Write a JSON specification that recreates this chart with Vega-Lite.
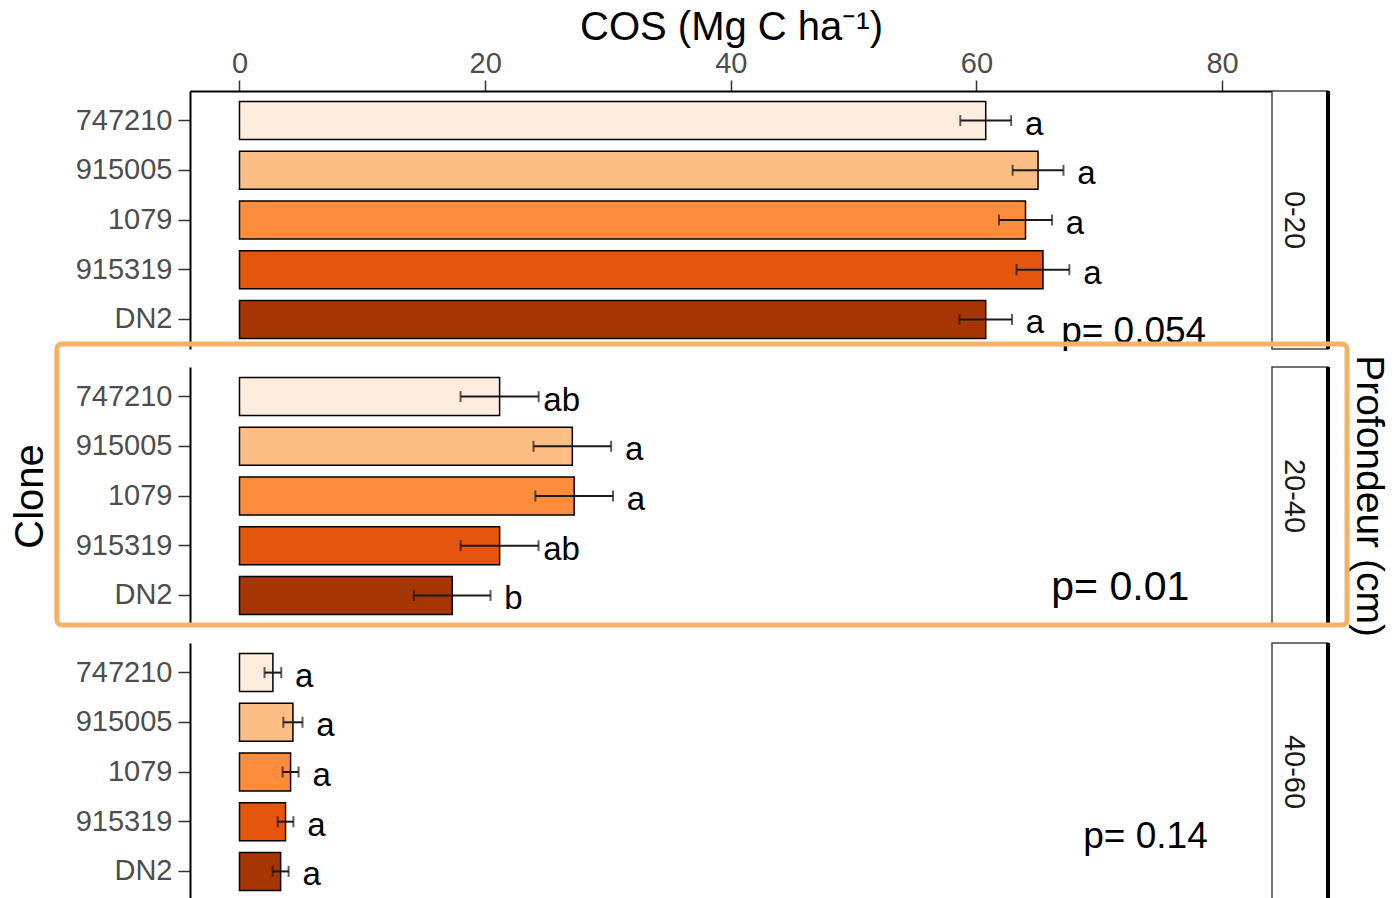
{
  "$schema": "https://vega.github.io/schema/vega-lite/v6.json",
  "padding": {"left": 10, "top": 7, "right": 0, "bottom": 0},
  "background": "white",
  "config": {
    "font": "Liberation Sans",
    "view": {"stroke": null},
    "axis": {"grid": false}
  },
  "datasets": {
    "cos": [
      {"depth": "0-20", "clone": "747210", "cos": 60.76, "se": 2.07, "letter": "a"},
      {"depth": "0-20", "clone": "915005", "cos": 65.02, "se": 2.07, "letter": "a"},
      {"depth": "0-20", "clone": "1079", "cos": 64.0, "se": 2.16, "letter": "a"},
      {"depth": "0-20", "clone": "915319", "cos": 65.42, "se": 2.15, "letter": "a"},
      {"depth": "0-20", "clone": "DN2", "cos": 60.76, "se": 2.14, "letter": "a"},
      {"depth": "20-40", "clone": "747210", "cos": 21.18, "se": 3.18, "letter": "ab"},
      {"depth": "20-40", "clone": "915005", "cos": 27.1, "se": 3.16, "letter": "a"},
      {"depth": "20-40", "clone": "1079", "cos": 27.25, "se": 3.16, "letter": "a"},
      {"depth": "20-40", "clone": "915319", "cos": 21.18, "se": 3.17, "letter": "ab"},
      {"depth": "20-40", "clone": "DN2", "cos": 17.32, "se": 3.12, "letter": "b"},
      {"depth": "40-60", "clone": "747210", "cos": 2.72, "se": 0.68, "letter": "a"},
      {"depth": "40-60", "clone": "915005", "cos": 4.35, "se": 0.78, "letter": "a"},
      {"depth": "40-60", "clone": "1079", "cos": 4.16, "se": 0.65, "letter": "a"},
      {"depth": "40-60", "clone": "915319", "cos": 3.75, "se": 0.64, "letter": "a"},
      {"depth": "40-60", "clone": "DN2", "cos": 3.35, "se": 0.65, "letter": "a"}
    ]
  },
  "bounds": "flush",
  "spacing": 18,
  "vconcat": [
    {
      "width": 1082,
      "height": 258,
      "data": {"name": "cos"},
      "transform": [
        {"filter": "datum.depth === '0-20'"},
        {"calculate": "datum.cos - datum.se", "as": "lo"},
        {"calculate": "datum.cos + datum.se", "as": "hi"}
      ],
      "layer": [
        {
          "mark": {"type": "bar", "stroke": "black", "strokeWidth": 1.5},
          "encoding": {
            "y": {"field": "clone", "type": "nominal",
              "scale": {"domain": ["747210", "915005", "1079", "915319", "DN2"], "paddingInner": 0.235, "paddingOuter": 0.213},
              "axis": {"title": null, "labelFontSize": 29, "labelColor": "#4D4D4D", "tickSize": 12, "tickColor": "#333333", "tickWidth": 1.5, "domainColor": "black", "domainWidth": 2, "labelPadding": 6}},
            "x": {"field": "cos", "type": "quantitative",
              "scale": {"domain": [-4.03, 84.07], "nice": false, "zero": false},
              "axis": {"orient": "top", "title": "COS (Mg C ha⁻¹)", "titleFontSize": 40, "titleFontWeight": "normal", "titleColor": "black", "labelFontSize": 29, "labelColor": "#4D4D4D", "tickColor": "#333333", "tickSize": 11, "tickWidth": 1.5, "domainColor": "black", "domainWidth": 2, "values": [0, 20, 40, 60, 80], "labelPadding": 2, "titlePadding": 2}},
            "color": {"field": "clone", "type": "nominal", "legend": null,
              "scale": {"domain": ["747210", "915005", "1079", "915319", "DN2"], "range": ["#FEEDDE", "#FDBE85", "#FD8D3C", "#E6550D", "#A63603"]}}
          }
        },
        {
          "mark": {"type": "rule", "strokeWidth": 2, "color": "#1A1A1A"},
          "encoding": {"y": {"field": "clone", "type": "nominal"}, "x": {"field": "lo", "type": "quantitative"}, "x2": {"field": "hi"}}
        },
        {
          "mark": {"type": "tick", "size": 11, "thickness": 2, "color": "#1A1A1A"},
          "encoding": {"y": {"field": "clone", "type": "nominal"}, "x": {"field": "lo", "type": "quantitative"}}
        },
        {
          "mark": {"type": "tick", "size": 11, "thickness": 2, "color": "#1A1A1A"},
          "encoding": {"y": {"field": "clone", "type": "nominal"}, "x": {"field": "hi", "type": "quantitative"}}
        },
        {
          "mark": {"type": "text", "fontSize": 33, "align": "center", "baseline": "alphabetic", "dx": 23, "dy": 14, "color": "black"},
          "encoding": {"y": {"field": "clone", "type": "nominal"}, "x": {"field": "hi", "type": "quantitative"}, "text": {"field": "letter"}}
        },
        {
          "data": {"values": [{"p": "p= 0.054"}]},
          "mark": {"type": "text", "fontSize": 37, "align": "left", "baseline": "alphabetic", "dy": 24, "color": "black"},
          "encoding": {"y": {"datum": "DN2", "type": "nominal"}, "x": {"datum": 66.9}, "text": {"field": "p"}}
        },
        {
          "data": {"values": [{"depth": "0-20"}]},
          "mark": {"type": "rect", "fill": "white", "stroke": "#444444", "strokeWidth": 1.5},
          "encoding": {"x": {"datum": 84.07}, "x2": {"datum": 88.63}}
        },
        {
          "data": {"values": [{"depth": "0-20"}]},
          "mark": {"type": "rule", "strokeWidth": 4, "color": "black"},
          "encoding": {"x": {"datum": 88.63}}
        },
        {
          "data": {"values": [{"depth": "0-20"}]},
          "mark": {"type": "text", "fontSize": 29, "angle": 90, "align": "center", "baseline": "middle", "color": "#1A1A1A"},
          "encoding": {"x": {"datum": 85.9}, "text": {"field": "depth"}}
        }
      ]
    },
    {
      "width": 1082,
      "height": 258,
      "data": {"name": "cos"},
      "transform": [
        {"filter": "datum.depth === '20-40'"},
        {"calculate": "datum.cos - datum.se", "as": "lo"},
        {"calculate": "datum.cos + datum.se", "as": "hi"}
      ],
      "layer": [
        {
          "mark": {"type": "bar", "stroke": "black", "strokeWidth": 1.5},
          "encoding": {
            "y": {"field": "clone", "type": "nominal",
              "scale": {"domain": ["747210", "915005", "1079", "915319", "DN2"], "paddingInner": 0.235, "paddingOuter": 0.213},
              "axis": {"title": "Clone", "titleFontSize": 40, "titleFontWeight": "normal", "titleColor": "black", "titlePadding": 25, "labelFontSize": 29, "labelColor": "#4D4D4D", "tickSize": 12, "tickColor": "#333333", "tickWidth": 1.5, "domainColor": "black", "domainWidth": 2, "labelPadding": 6}},
            "x": {"field": "cos", "type": "quantitative",
              "scale": {"domain": [-4.03, 84.07], "nice": false, "zero": false},
              "axis": null},
            "color": {"field": "clone", "type": "nominal", "legend": null,
              "scale": {"domain": ["747210", "915005", "1079", "915319", "DN2"], "range": ["#FEEDDE", "#FDBE85", "#FD8D3C", "#E6550D", "#A63603"]}}
          }
        },
        {
          "mark": {"type": "rule", "strokeWidth": 2, "color": "#1A1A1A"},
          "encoding": {"y": {"field": "clone", "type": "nominal"}, "x": {"field": "lo", "type": "quantitative"}, "x2": {"field": "hi"}}
        },
        {
          "mark": {"type": "tick", "size": 11, "thickness": 2, "color": "#1A1A1A"},
          "encoding": {"y": {"field": "clone", "type": "nominal"}, "x": {"field": "lo", "type": "quantitative"}}
        },
        {
          "mark": {"type": "tick", "size": 11, "thickness": 2, "color": "#1A1A1A"},
          "encoding": {"y": {"field": "clone", "type": "nominal"}, "x": {"field": "hi", "type": "quantitative"}}
        },
        {
          "mark": {"type": "text", "fontSize": 33, "align": "center", "baseline": "alphabetic", "dx": 23, "dy": 14, "color": "black"},
          "encoding": {"y": {"field": "clone", "type": "nominal"}, "x": {"field": "hi", "type": "quantitative"}, "text": {"field": "letter"}}
        },
        {
          "data": {"values": [{"p": "p= 0.01"}]},
          "mark": {"type": "text", "fontSize": 41, "align": "left", "baseline": "alphabetic", "dy": 5, "color": "black"},
          "encoding": {"y": {"datum": "DN2", "type": "nominal"}, "x": {"datum": 66.1}, "text": {"field": "p"}}
        },
        {
          "data": {"values": [{"depth": "20-40"}]},
          "mark": {"type": "rect", "fill": "white", "stroke": "#444444", "strokeWidth": 1.5},
          "encoding": {"x": {"datum": 84.07}, "x2": {"datum": 88.63}}
        },
        {
          "data": {"values": [{"depth": "20-40"}]},
          "mark": {"type": "rule", "strokeWidth": 4, "color": "black"},
          "encoding": {"x": {"datum": 88.63}}
        },
        {
          "data": {"values": [{"depth": "20-40"}]},
          "mark": {"type": "text", "fontSize": 29, "angle": 90, "align": "center", "baseline": "middle", "color": "#1A1A1A"},
          "encoding": {"x": {"datum": 85.9}, "text": {"field": "depth"}}
        },
        {
          "data": {"values": [{"label": "Profondeur (cm)"}]},
          "mark": {"type": "text", "fontSize": 39, "angle": 90, "align": "center", "baseline": "middle", "color": "black", "dy": -2},
          "encoding": {"x": {"datum": 91.8}, "text": {"field": "label"}}
        },
        {
          "data": {"values": [{"label": "frame"}]},
          "mark": {"type": "rect", "filled": false, "stroke": "#F4B266", "strokeWidth": 5, "cornerRadius": 5, "yOffset": -23, "y2Offset": 7},
          "encoding": {"x": {"datum": -14.87}, "x2": {"datum": 90.18}}
        }
      ]
    },
    {
      "width": 1082,
      "height": 258,
      "data": {"name": "cos"},
      "transform": [
        {"filter": "datum.depth === '40-60'"},
        {"calculate": "datum.cos - datum.se", "as": "lo"},
        {"calculate": "datum.cos + datum.se", "as": "hi"}
      ],
      "layer": [
        {
          "mark": {"type": "bar", "stroke": "black", "strokeWidth": 1.5},
          "encoding": {
            "y": {"field": "clone", "type": "nominal",
              "scale": {"domain": ["747210", "915005", "1079", "915319", "DN2"], "paddingInner": 0.235, "paddingOuter": 0.213},
              "axis": {"title": null, "labelFontSize": 29, "labelColor": "#4D4D4D", "tickSize": 12, "tickColor": "#333333", "tickWidth": 1.5, "domainColor": "black", "domainWidth": 2, "labelPadding": 6}},
            "x": {"field": "cos", "type": "quantitative",
              "scale": {"domain": [-4.03, 84.07], "nice": false, "zero": false},
              "axis": null},
            "color": {"field": "clone", "type": "nominal", "legend": null,
              "scale": {"domain": ["747210", "915005", "1079", "915319", "DN2"], "range": ["#FEEDDE", "#FDBE85", "#FD8D3C", "#E6550D", "#A63603"]}}
          }
        },
        {
          "mark": {"type": "rule", "strokeWidth": 2, "color": "#1A1A1A"},
          "encoding": {"y": {"field": "clone", "type": "nominal"}, "x": {"field": "lo", "type": "quantitative"}, "x2": {"field": "hi"}}
        },
        {
          "mark": {"type": "tick", "size": 11, "thickness": 2, "color": "#1A1A1A"},
          "encoding": {"y": {"field": "clone", "type": "nominal"}, "x": {"field": "lo", "type": "quantitative"}}
        },
        {
          "mark": {"type": "tick", "size": 11, "thickness": 2, "color": "#1A1A1A"},
          "encoding": {"y": {"field": "clone", "type": "nominal"}, "x": {"field": "hi", "type": "quantitative"}}
        },
        {
          "mark": {"type": "text", "fontSize": 33, "align": "center", "baseline": "alphabetic", "dx": 23, "dy": 14, "color": "black"},
          "encoding": {"y": {"field": "clone", "type": "nominal"}, "x": {"field": "hi", "type": "quantitative"}, "text": {"field": "letter"}}
        },
        {
          "data": {"values": [{"p": "p= 0.14"}]},
          "mark": {"type": "text", "fontSize": 37, "align": "left", "baseline": "alphabetic", "dy": -23, "color": "black"},
          "encoding": {"y": {"datum": "DN2", "type": "nominal"}, "x": {"datum": 68.7}, "text": {"field": "p"}}
        },
        {
          "data": {"values": [{"depth": "40-60"}]},
          "mark": {"type": "rect", "fill": "white", "stroke": "#444444", "strokeWidth": 1.5},
          "encoding": {"x": {"datum": 84.07}, "x2": {"datum": 88.63}}
        },
        {
          "data": {"values": [{"depth": "40-60"}]},
          "mark": {"type": "rule", "strokeWidth": 4, "color": "black"},
          "encoding": {"x": {"datum": 88.63}}
        },
        {
          "data": {"values": [{"depth": "40-60"}]},
          "mark": {"type": "text", "fontSize": 29, "angle": 90, "align": "center", "baseline": "middle", "color": "#1A1A1A"},
          "encoding": {"x": {"datum": 85.9}, "text": {"field": "depth"}}
        }
      ]
    }
  ]
}
